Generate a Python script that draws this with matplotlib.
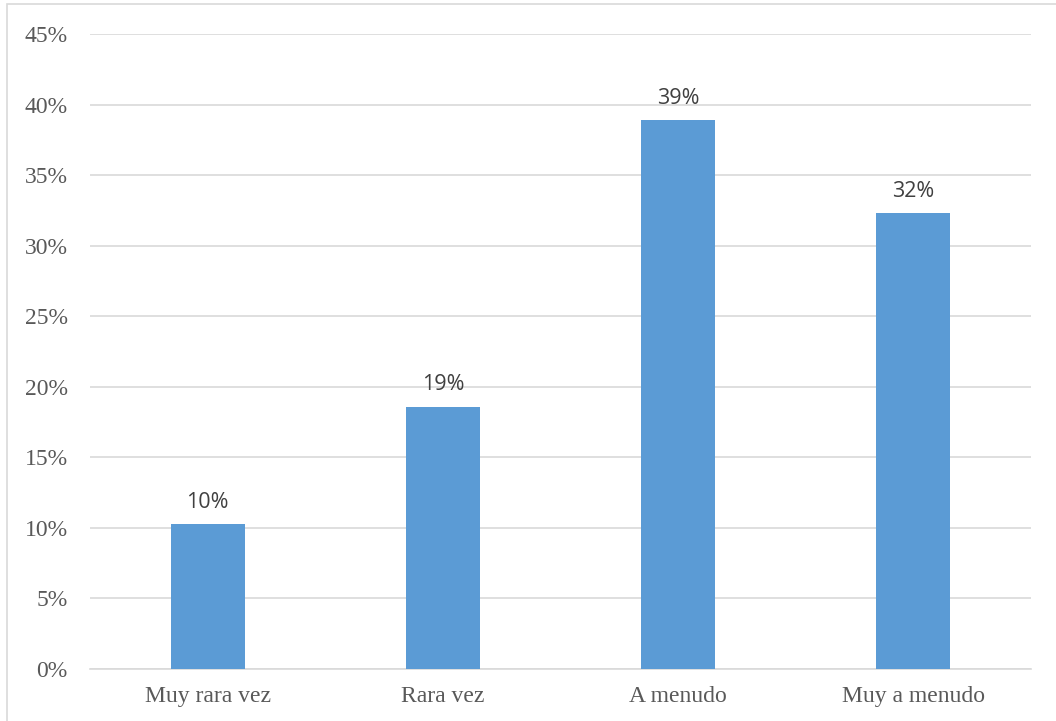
import matplotlib
matplotlib.use("Agg")
import matplotlib.pyplot as plt
from matplotlib.ticker import FuncFormatter
from matplotlib.patches import Rectangle

categories = ["Muy rara vez", "Rara vez", "A menudo", "Muy a menudo"]
values = [10.25, 18.6, 38.9, 32.3]
labels = ["10%", "19%", "39%", "32%"]
yticks = [0, 5, 10, 15, 20, 25, 30, 35, 40, 45]

W, H = 1056, 721
fig = plt.figure(figsize=(W / 100, H / 100), dpi=100)
ax = fig.add_axes([90 / W, 1 - 669 / H, (1031 - 90) / W, (669 - 34) / H])

x = range(len(categories))
bars = ax.bar(x, values, width=0.315, color="#5B9BD5", zorder=3)
ax.set_xlim(-0.5, len(categories) - 0.5)
ax.set_ylim(0, 45)
ax.set_yticks(yticks)
ax.yaxis.set_major_formatter(FuncFormatter(lambda v, p: f"{int(v)}%"))
ax.set_xticks(list(x))
ax.set_xticklabels(categories)

for lab in ax.get_xticklabels() + ax.get_yticklabels():
    lab.set_fontfamily("Liberation Serif")
    lab.set_fontsize(17)
    lab.set_color("#595959")

ax.tick_params(axis="both", length=0)
ax.tick_params(axis="y", pad=16)
ax.tick_params(axis="x", pad=12)
ax.grid(axis="y", color="#D9D9D9", linewidth=1.2, zorder=0)
for s in ["top", "right", "left"]:
    ax.spines[s].set_visible(False)
ax.spines["bottom"].set_color("#D9D9D9")
ax.spines["bottom"].set_linewidth(1.2)

for b, t in zip(bars, labels):
    ax.annotate(t, (b.get_x() + b.get_width() / 2, b.get_height()),
                xytext=(0, 8), textcoords="offset points",
                ha="center", va="bottom", fontsize=15.5,
                family="Open Sans", color="#404040")

fig.patches.append(Rectangle((7 / W, -0.01), 1.0, 1 - 4 / H + 0.01,
                             transform=fig.transFigure, fill=False,
                             edgecolor="#D9D9D9", linewidth=1.2))

fig.savefig("out.png", dpi=100)
